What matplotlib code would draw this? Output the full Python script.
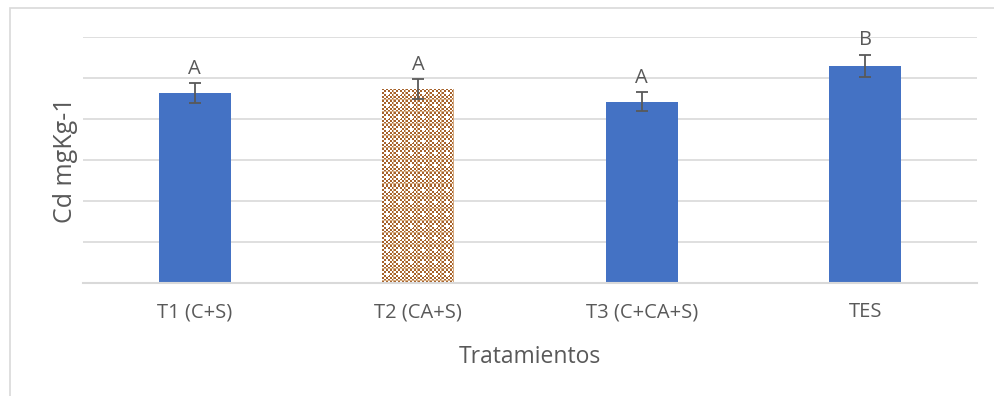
import numpy as np
import matplotlib.pyplot as plt
from matplotlib.patches import Rectangle

plt.rcParams['font.family'] = ['Open Sans', 'DejaVu Sans']

tratamientos = ["T1 (C+S)", "T2 (CA+S)", "T3 (C+CA+S)", "TES"]
cd = [2.32, 2.37, 2.21, 2.65]
err = [0.12, 0.12, 0.115, 0.135]
letras = ["A", "A", "A", "B"]

texto = '#595959'
azul = '#4472C4'
rejilla = '#d9d9d9'

fig = plt.figure(figsize=(9.94, 3.96), dpi=100)
ax = fig.add_axes([83 / 994, 113 / 396, 894 / 994, 246 / 396])

# outer chart frame, partly cut by the figure edge
fig.add_artist(Rectangle((10 / 994, -0.1), 1.1, (396 - 8) / 396 + 0.1,
                         transform=fig.transFigure, fill=False,
                         ec=rejilla, lw=1.2))

x = np.arange(len(tratamientos))
bars = ax.bar(x, cd, width=0.32, color=azul, zorder=3)
ax.errorbar(x, cd, yerr=err, fmt='none', ecolor=texto, elinewidth=1.3,
            capsize=4.5, capthick=1.3, zorder=4)

ax.set_xlim(-0.5, 3.5)
ax.set_ylim(0, 3)
ax.set_yticks(np.arange(0, 3.01, 0.5))
ax.set_yticklabels([])
ax.grid(axis='y', color=rejilla, lw=1.2, zorder=0)
ax.tick_params(length=0)
for s in ['left', 'right', 'top']:
    ax.spines[s].set_visible(False)
ax.spines['bottom'].set_color(rejilla)
ax.spines['bottom'].set_linewidth(1.5)
ax.spines['bottom'].set_zorder(5)

ax.set_xticks(x)
ax.set_xticklabels(tratamientos, fontsize=14.5, color=texto)
ax.tick_params(axis='x', pad=14)
ax.set_xlabel("Tratamientos", fontsize=16.5, color=texto, labelpad=16)
ax.set_ylabel("Cd mgKg-1", fontsize=18, color=texto, labelpad=0)

for xi, v, e, l in zip(x, cd, err, letras):
    ax.annotate(l, (xi, v + e), xytext=(0, 3), textcoords='offset points',
                ha='center', va='bottom', fontsize=14.5, color=texto)

# T2 bar: brown dotted-grid texture clipped to the bar
b = bars[1]
b.set_facecolor('none')
fig.canvas.draw()
x0, y0 = ax.transData.transform((b.get_x(), 0))
x1, y1 = ax.transData.transform((b.get_x() + b.get_width(), b.get_height()))
w, h = int(round(x1 - x0)), int(round(y1 - y0))
marron = np.array([166, 98, 44, 255], dtype=np.uint8)
claro = np.array([214, 172, 130, 255], dtype=np.uint8)
blanco = np.array([255, 255, 255, 255], dtype=np.uint8)
yy, xx = np.mgrid[0:h, 0:w]
tex = np.empty((h, w, 4), dtype=np.uint8)
tex[:] = blanco
tex[(xx // 2 + yy // 2) % 2 == 0] = marron
tex[(xx % 12 == 11) | (yy % 12 == 11)] = claro
tex[(xx % 12 >= 4) & (xx % 12 <= 6) & (yy % 12 >= 4) & (yy % 12 <= 6)] = blanco
im = ax.imshow(tex, extent=(b.get_x(), b.get_x() + b.get_width(), 0, b.get_height()),
               aspect='auto', interpolation='none', zorder=3)
im.set_clip_path(b)

fig.savefig('out.png', dpi=100)
